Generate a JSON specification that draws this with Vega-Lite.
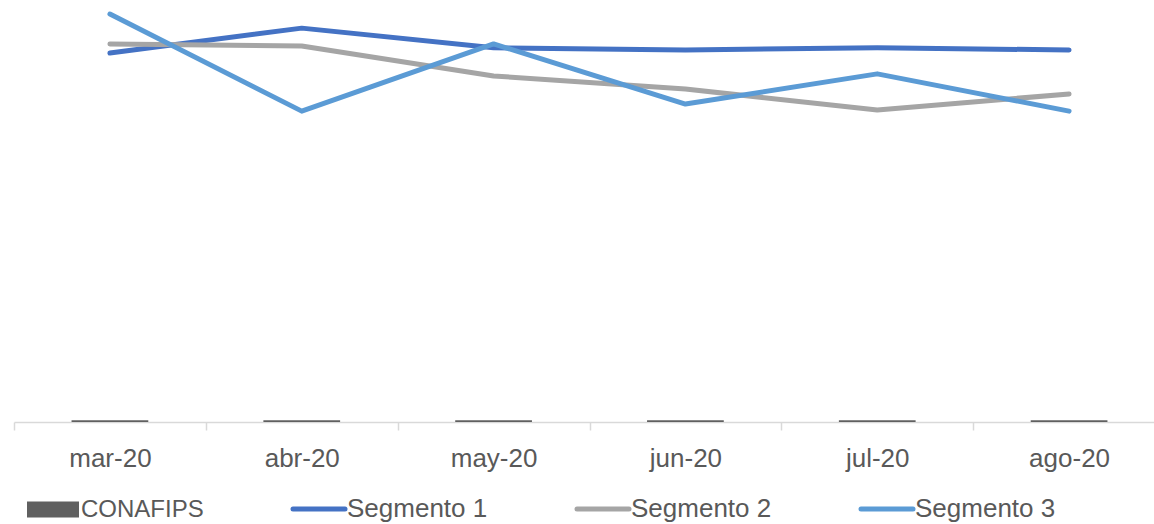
{
  "$schema": "https://vega.github.io/schema/vega-lite/v6.json",
  "width": 1151,
  "height": 422,
  "autosize": {"type": "none"},
  "padding": {"left": 14, "top": 0, "right": 0, "bottom": 102},
  "config": {"view": {"stroke": null}, "font": "Liberation Sans"},
  "data": {
    "values": [
      {"mes": "mar-20", "serie": "CONAFIPS", "valor": 0.005},
      {"mes": "abr-20", "serie": "CONAFIPS", "valor": 0.005},
      {"mes": "may-20", "serie": "CONAFIPS", "valor": 0.005},
      {"mes": "jun-20", "serie": "CONAFIPS", "valor": 0.005},
      {"mes": "jul-20", "serie": "CONAFIPS", "valor": 0.005},
      {"mes": "ago-20", "serie": "CONAFIPS", "valor": 0.005},
      {"mes": "mar-20", "serie": "Segmento 1", "valor": 1.049},
      {"mes": "abr-20", "serie": "Segmento 1", "valor": 1.120},
      {"mes": "may-20", "serie": "Segmento 1", "valor": 1.064},
      {"mes": "jun-20", "serie": "Segmento 1", "valor": 1.058},
      {"mes": "jul-20", "serie": "Segmento 1", "valor": 1.064},
      {"mes": "ago-20", "serie": "Segmento 1", "valor": 1.058},
      {"mes": "mar-20", "serie": "Segmento 2", "valor": 1.075},
      {"mes": "abr-20", "serie": "Segmento 2", "valor": 1.069},
      {"mes": "may-20", "serie": "Segmento 2", "valor": 0.984},
      {"mes": "jun-20", "serie": "Segmento 2", "valor": 0.947},
      {"mes": "jul-20", "serie": "Segmento 2", "valor": 0.887},
      {"mes": "ago-20", "serie": "Segmento 2", "valor": 0.933},
      {"mes": "mar-20", "serie": "Segmento 3", "valor": 1.160},
      {"mes": "abr-20", "serie": "Segmento 3", "valor": 0.884},
      {"mes": "may-20", "serie": "Segmento 3", "valor": 1.075},
      {"mes": "jun-20", "serie": "Segmento 3", "valor": 0.904},
      {"mes": "jul-20", "serie": "Segmento 3", "valor": 0.990},
      {"mes": "ago-20", "serie": "Segmento 3", "valor": 0.884}
    ]
  },
  "encoding": {
    "x": {
      "field": "mes",
      "type": "nominal",
      "sort": null,
      "scale": {"paddingInner": 0, "paddingOuter": 0},
      "axis": {
        "title": null,
        "labelAngle": 0,
        "labelFontSize": 26,
        "labelColor": "#595959",
        "labelPadding": 15,
        "domainColor": "#d9d9d9",
        "domainWidth": 1.5,
        "tickColor": "#d9d9d9",
        "tickWidth": 1.5,
        "tickSize": 8,
        "tickBand": "extent",
        "grid": false
      }
    },
    "y": {
      "field": "valor",
      "type": "quantitative",
      "scale": {"domain": [0, 1.2], "nice": false, "zero": true},
      "axis": null
    },
    "color": {
      "field": "serie",
      "type": "nominal",
      "scale": {
        "domain": ["CONAFIPS", "Segmento 1", "Segmento 2", "Segmento 3"],
        "range": ["#606060", "#4472C4", "#A5A5A5", "#5B9BD5"]
      },
      "legend": {
        "orient": "none",
        "legendX": 26,
        "legendY": 496,
        "direction": "horizontal",
        "columns": 4,
        "title": null,
        "padding": 0,
        "symbolSize": 2704,
        "symbolStrokeWidth": 5,
        "labelFontSize": 26,
        "labelColor": "#595959",
        "labelOffset": 15,
        "columnPadding": 79,
        "encode": {
          "labels": {
            "update": {
              "fontSize": {"signal": "datum.value === 'CONAFIPS' ? 24 : 26"}
            }
          },
          "symbols": {
            "update": {
              "shape": {"signal": "datum.value === 'CONAFIPS' ? 'M-1,-0.31H1V0.31H-1Z' : 'stroke'"},
              "fill": {"signal": "datum.value === 'CONAFIPS' ? '#636363' : 'transparent'"},
              "stroke": {"signal": "scale('color', datum.value)"},
              "strokeWidth": {"signal": "datum.value === 'CONAFIPS' ? 0 : 5"},
              "strokeCap": {"value": "round"},
              "opacity": {"value": 1}
            }
          }
        }
      }
    }
  },
  "layer": [
    {
      "transform": [{"filter": "datum.serie === 'CONAFIPS'"}],
      "mark": {"type": "bar", "width": {"band": 0.4}}
    },
    {
      "transform": [{"filter": "datum.serie !== 'CONAFIPS'"}],
      "mark": {"type": "line", "strokeWidth": 5, "strokeCap": "round", "strokeJoin": "round"}
    }
  ]
}
